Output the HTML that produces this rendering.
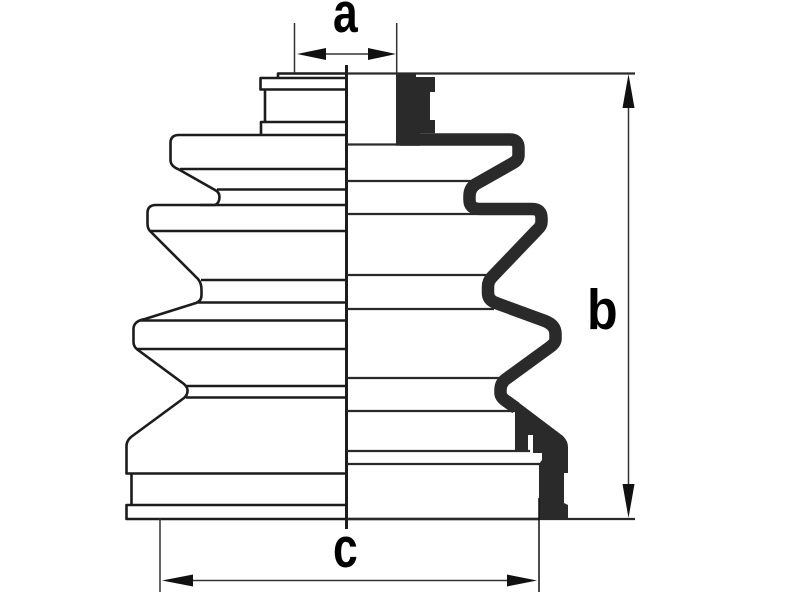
<!DOCTYPE html>
<html><head><meta charset="utf-8"><style>html,body{margin:0;padding:0;background:#fff}svg{display:block}</style></head>
<body>
<svg xmlns="http://www.w3.org/2000/svg" width="800" height="600" viewBox="0 0 800 600">
<g fill="none" stroke="#1c1c1c" stroke-width="2.6" stroke-linejoin="round">
<path d="M346 73.5H278V77.5M346 78H260.500V89.500H346M265 90V122M346 122H261V134.500"/>
<path d="M346 135H179Q170.500 135 170.500 143V160Q170.500 166 178 169L215 190Q219.500 192 219.500 197Q219.500 203 215 205H156Q147.500 205 147.500 213V224Q147.500 229 151 232L198 279Q201.500 283 201.500 290V295Q201.500 301 196 303L145 319Q133.500 321 133.500 329V342Q133.500 347 138 350L184 384Q188 388 187.500 391Q187.500 395 184 398L131 437Q126.500 441 126.500 446V473.500H346M131.500 474V505M346 505H126.500V519H539"/>
<path d="M180 169H346M217 189.500H346M200 205H346M151 231H346M201 280H346M198 302.500H346M140 320.500H346M136 349H346M186 386H346M186 397.500H346"/>
</g>
<rect x="345" y="65" width="3" height="464" fill="#1c1c1c"/>
<g stroke="#2a2a2a" stroke-width="2.200" fill="none">
<path d="M347 73.500H635M347 144.500H398M347 181H472M347 214H478M347 275H488M347 309H494M347 378H502M347 411H520M347 451H530M347 464H541M347 519H635"/>
</g>
<path d="M400 139.500H510Q518.500 139.500 518.500 148V155Q518.500 160 513 163L476 184Q469.500 188 469.500 196V200Q469.500 209 480 209H532Q541.500 209 541.500 218V222Q541.500 226 537 230L492 277Q488 281 488 287V293Q488 300 496 303L545 321Q555.500 325 555.500 334V339Q555.500 343 550 347L506 379Q500.500 383 500.500 390V393Q500.500 397 506 401L516 408" fill="none" stroke="#2a2a2a" stroke-width="12.500" stroke-linejoin="round"/>
<path d="M396 73H416V77H435V92H430V120H435V133.300H420V145.700H396Z" fill="#2a2a2a"/>
<path d="M510 396L563 436Q568 441 568 447V473H564V503L568 505V520H539V464L542 460V453H533V435H528V452H515V408Z" fill="#2a2a2a"/>
<g stroke="#333" stroke-width="1.500" fill="none">
<path d="M294.500 23V73M396.700 23V73M310 54H385"/>
<path d="M628.500 90V505"/>
<path d="M160 519V592M175 580.500H525"/>
<path d="M539 498V592" stroke="#111"/>
</g>
<g fill="#111">
<path d="M297 54L326 48V60Z M396 54L368 48V60Z"/>
<path d="M628.500 74L622.500 108H634.500Z M628.500 518L622.500 484H634.500Z"/>
<path d="M162 580.500L193 574.500V586.500Z M537 580.500L507 574.500V586.500Z"/>
</g>
<g font-family="'Liberation Sans',sans-serif" font-weight="bold" fill="#000" font-size="57">
<text transform="translate(333 32) scale(.78 1)">a</text>
<text transform="translate(587 329) scale(.88 1)">b</text>
<text transform="translate(333 567) scale(.78 1)">c</text>
</g>
</svg>
</body></html>
